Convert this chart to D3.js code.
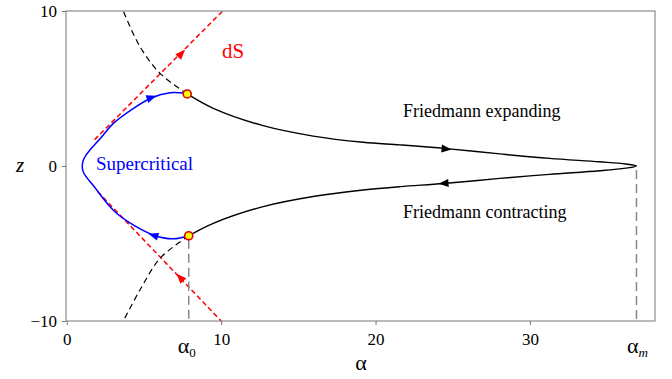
<!DOCTYPE html>
<html>
<head>
<meta charset="utf-8">
<script src="https://cdn.jsdelivr.net/npm/d3@7"></script>
<style>
  body { margin: 0; background: #fff; }
  text { font-family: "Liberation Serif", "Times New Roman", serif; }
</style>
</head>
<body>
<script>
// values (alpha, z)
const alpha0 = 7.9;
const alphaM = 36.9;

const friedmann = [
  [7.8, 4.65], [9.49, 3.72], [12.72, 2.6], [15.96, 1.93], [19.2, 1.53], [21.6, 1.36],
  [24.6, 1.12], [28.05, 0.78], [31.27, 0.49], [34.5, 0.27], [36.2, 0.13], [36.9, 0],
  [36.2, -0.14], [34.5, -0.31], [31.27, -0.54], [28.05, -0.8], [24.4, -1.13], [21.6, -1.33],
  [19.2, -1.55], [15.96, -1.97], [12.72, -2.62], [9.49, -3.7], [7.9, -4.5]
];
const friedmannUpperDashed = [[7.8, 4.65], [6.04, 5.98], [4.74, 7.7], [3.66, 10]];
const friedmannLowerDashed = [[7.9, -4.5], [6.04, -5.96], [4.74, -8.0], [3.66, -10]];

const supercritical = [
  [7.7, 4.69], [6.7, 4.73], [5.5, 4.4], [4.3, 3.7], [3.02, 2.75], [2.27, 1.89], [1.55, 1.1],
  [1.1, 0.45], [1.0, 0], [1.1, -0.45], [1.5, -1.0], [1.94, -1.55], [3.0, -2.84], [4.3, -3.8],
  [5.6, -4.45], [6.9, -4.7], [7.87, -4.5]
];

const dsUpper = [[1.8, 1.7], [10.1, 10]];
const dsLower = [[2.0, -1.65], [10.0, -10]];

const joinPoints = [[7.8, 4.65], [7.9, -4.5]];

// arrows: alpha, z, direction (dalpha, dz)
const blackArrows = [[24.6, 1.1, 1, -0.1], [24.4, -1.12, -1, -0.08]];
const blueArrows = [[5.5, 4.42, 1, 0.35], [5.6, -4.47, -1, 0.3]];
const redArrows = [[7.44, 7.27, 1, 1.03], [7.33, -7.18, -1, 1.05]];

const xTicks = [0, 10, 20, 30];
const yTicks = [-10, 0, 10];

const width = 672, height = 379;
const svg = d3.select("body").append("svg")
  .attr("width", width).attr("height", height);

const x = d3.scaleLinear().domain([-0.05, 38.1]).range([66, 655]);
const y = d3.scaleLinear().domain([-10, 10]).range([321, 11]);

const line = d3.line().x(d => x(d[0])).y(d => y(d[1])).curve(d3.curveCatmullRom.alpha(0.5));
const smooth = d3.line().x(d => x(d[0])).y(d => y(d[1])).curve(d3.curveNatural);

// red dS lines
[dsUpper, dsLower].forEach(d => {
  svg.append("path").attr("d", line(d))
    .attr("fill", "none").attr("stroke", "#ff0000")
    .attr("stroke-width", 1.5).attr("stroke-dasharray", "5,3");
});

// black dashed continuation
[friedmannUpperDashed, friedmannLowerDashed].forEach(d => {
  svg.append("path").attr("d", line(d))
    .attr("fill", "none").attr("stroke", "#000")
    .attr("stroke-width", 1.2).attr("stroke-dasharray", "6,4");
});

// gray vertical guides
[[alpha0, -4.5], [alphaM, 0]].forEach(d => {
  svg.append("line")
    .attr("x1", x(d[0])).attr("x2", x(d[0]))
    .attr("y1", y(d[1]) + 4).attr("y2", y(-10))
    .attr("stroke", "#888").attr("stroke-width", 1.5)
    .attr("stroke-dasharray", "9,5");
});

svg.append("path").attr("d", smooth(supercritical))
  .attr("fill", "none").attr("stroke", "#0000ff").attr("stroke-width", 1.5);

svg.append("path").attr("d", line(friedmann))
  .attr("fill", "none").attr("stroke", "#000").attr("stroke-width", 1.4);

function drawArrows(data, color) {
  svg.selectAll(null).data(data).enter().append("path")
    .attr("d", "M5,0 L-5,-4 L-5,4 Z")
    .attr("fill", color)
    .attr("transform", d => {
      const ang = Math.atan2(y(d[1] + d[3]) - y(d[1]), x(d[0] + d[2]) - x(d[0])) * 180 / Math.PI;
      return `translate(${x(d[0])},${y(d[1])}) rotate(${ang})`;
    });
}
drawArrows(blackArrows, "#000");
drawArrows(blueArrows, "#0000ff");
drawArrows(redArrows, "#ff0000");

svg.selectAll(null).data(joinPoints).enter().append("circle")
  .attr("cx", d => x(d[0])).attr("cy", d => y(d[1])).attr("r", 4)
  .attr("fill", "#ffff00").attr("stroke", "#dd0000").attr("stroke-width", 1.6);

// frame and axes
svg.append("rect")
  .attr("x", 66).attr("y", 11).attr("width", 589).attr("height", 310)
  .attr("fill", "none").attr("stroke", "#777").attr("stroke-width", 1);

const xAxis = svg.append("g").attr("transform", "translate(0,321)")
  .call(d3.axisBottom(x).tickValues(xTicks).tickSize(4).tickPadding(8));
const yAxis = svg.append("g").attr("transform", "translate(66,0)")
  .call(d3.axisLeft(y).tickValues(yTicks).tickSize(4).tickPadding(5)
    .tickFormat(d => d < 0 ? "\u2212" + Math.abs(d) : d));
[xAxis, yAxis].forEach(g => {
  g.select(".domain").remove();
  g.selectAll("line").attr("stroke", "#777");
  g.selectAll("text").attr("font-family", "Liberation Serif").attr("font-size", 17).attr("fill", "#000");
});

// labels
svg.append("text").attr("x", 20).attr("y", 172).attr("text-anchor", "middle")
  .attr("font-size", 21).attr("font-style", "italic").text("z");
svg.append("text").attr("x", 361).attr("y", 370).attr("text-anchor", "middle")
  .attr("font-size", 22).text("α");

const a0 = svg.append("text").attr("x", x(alpha0) - 2).attr("y", 353)
  .attr("text-anchor", "middle").attr("font-size", 22);
a0.append("tspan").text("α");
a0.append("tspan").attr("font-size", 13).attr("dy", 4).text("0");

const am = svg.append("text").attr("x", x(alphaM) + 1).attr("y", 353)
  .attr("text-anchor", "middle").attr("font-size", 22);
am.append("tspan").text("α");
am.append("tspan").attr("font-size", 13).attr("font-style", "italic").attr("dy", 4).text("m");

svg.append("text").attr("x", 222).attr("y", 58).attr("font-size", 21)
  .attr("fill", "#ff0000").text("dS");
svg.append("text").attr("x", 96).attr("y", 170).attr("font-size", 19)
  .attr("fill", "#0000ff").text("Supercritical");
svg.append("text").attr("x", 403).attr("y", 117).attr("font-size", 18)
  .text("Friedmann expanding");
svg.append("text").attr("x", 403).attr("y", 218).attr("font-size", 18)
  .text("Friedmann contracting");
</script>
</body>
</html>
